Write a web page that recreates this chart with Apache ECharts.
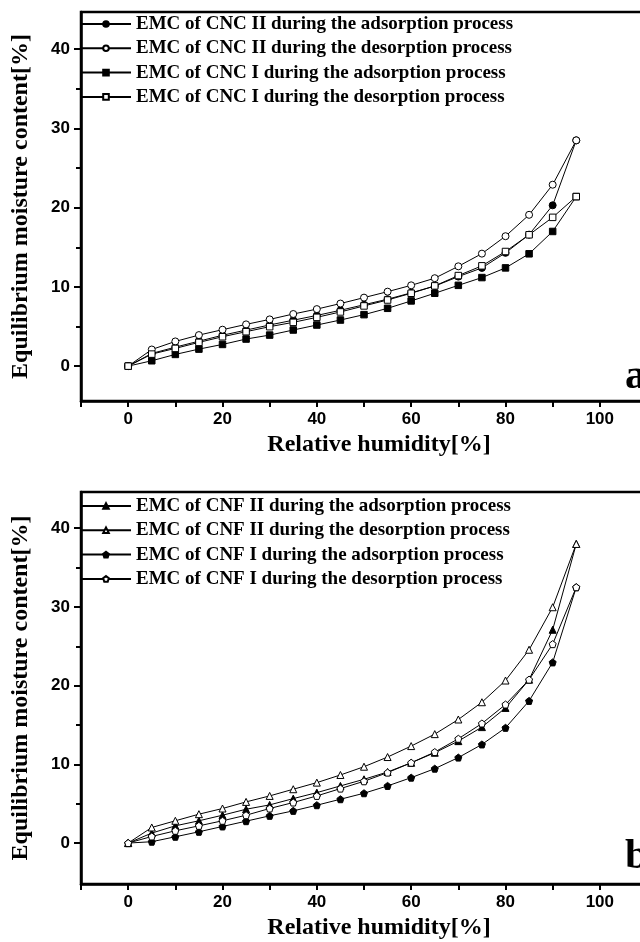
<!DOCTYPE html>
<html><head><meta charset="utf-8">
<script src="https://cdn.jsdelivr.net/npm/echarts@6/dist/echarts.min.js"></script>
<style>html,body{margin:0;padding:0;background:#fff}#c{width:640px;height:942px}</style>
</head><body><div id="c"></div>
<script>
// Relative humidity [%]
const rh = [0,5,10,15,20,25,30,35,40,45,50,55,60,65,70,75,80,85,90,95];
// Panel a: CNC
const cnc2Ads = [0,1.6,2.4,3.15,3.9,4.55,5.2,5.8,6.4,7.05,7.75,8.45,9.25,10.1,11.3,12.4,14.3,16.6,20.3,28.5];
const cnc2Des = [0,2.1,3.12,3.92,4.6,5.27,5.9,6.58,7.2,7.9,8.65,9.4,10.2,11.1,12.6,14.2,16.4,19.1,22.9,28.5];
const cnc1Ads = [0,0.68,1.48,2.15,2.74,3.42,3.92,4.56,5.19,5.82,6.5,7.3,8.23,9.2,10.2,11.18,12.4,14.18,17.0,21.4];
const cnc1Des = [0,1.52,2.24,3.0,3.71,4.35,4.98,5.53,6.16,6.84,7.6,8.35,9.2,10.13,11.43,12.66,14.47,16.58,18.78,21.4];
// Panel b: CNF
const cnf2Ads = [0,1.27,2.19,2.83,3.54,4.3,4.85,5.65,6.41,7.26,8.1,9.03,10.2,11.48,12.95,14.73,17.17,20.76,27.1,38.0];
const cnf2Des = [0,1.98,2.83,3.67,4.39,5.23,5.99,6.84,7.68,8.65,9.7,10.93,12.32,13.84,15.7,17.89,20.65,24.56,29.96,38.0];
const cnf1Ads = [0,0.17,0.8,1.43,2.11,2.78,3.46,4.09,4.81,5.57,6.33,7.26,8.31,9.45,10.86,12.53,14.64,18.06,22.95,32.5];
const cnf1Des = [0,0.84,1.56,2.19,2.83,3.54,4.39,5.15,5.99,6.92,7.85,8.95,10.2,11.56,13.25,15.19,17.6,20.76,25.27,32.5];

const namesA = ['EMC of CNC II during the adsorption process','EMC of CNC II during the desorption process','EMC of CNC I during the adsorption process','EMC of CNC I during the desorption process'];
const namesB = ['EMC of CNF II during the adsorption process','EMC of CNF II during the desorption process','EMC of CNF I during the adsorption process','EMC of CNF I during the desorption process'];
const yMajor = [0,10,20,30,40];
const yMinor = [5,15,25,35];
const xTitle = 'Relative humidity[%]';
const yTitle = 'Equilibrium moisture content[%]';
const panelLetters = ['a','b'];

const serif = '"Liberation Serif","Times New Roman","DejaVu Serif",serif';
const sans = '"Liberation Sans",Arial,sans-serif';
const pentagon = 'path://M0,-1 L0.951,-0.309 L0.588,0.809 L-0.588,0.809 L-0.951,-0.309 Z';

const panels = [
  {top:12, height:389, yMin:-4.4, yMax:44.7, legendTop:14, letterY:378,
   names:namesA, data:[cnc2Ads,cnc2Des,cnc1Ads,cnc1Des],
   symbols:['circle','circle','rect','rect'], fills:['#000','#fff','#000','#fff']},
  {top:492, height:392, yMin:-5.2, yMax:44.6, legendTop:496, letterY:858,
   names:namesB, data:[cnf2Ads,cnf2Des,cnf1Ads,cnf1Des],
   symbols:['triangle','triangle',pentagon,pentagon], fills:['#000','#fff','#000','#fff']}
];

const grid=[], xAxis=[], yAxis=[], series=[], legend=[], graphic=[];
panels.forEach((p,i)=>{
  grid.push({left:81, width:566, top:p.top, height:p.height, outerBoundsMode:'none', containLabel:false,
    show:true, borderColor:'#000', borderWidth:2.5, backgroundColor:'transparent'});
  xAxis.push({type:'value', gridIndex:i, min:-10, max:110, interval:10,
    axisLine:{onZero:false, lineStyle:{color:'#000', width:2.5}},
    axisTick:{length:6, lineStyle:{color:'#000', width:2}},
    axisLabel:{formatter:v=>(v>=0 && v%20===0)?String(v):'', fontFamily:sans, fontWeight:'bold', fontSize:17, color:'#000', margin:10},
    splitLine:{show:false},
    name:xTitle, nameLocation:'middle', nameGap:32,
    nameTextStyle:{fontFamily:serif, fontWeight:'bold', fontSize:24, color:'#000', padding:[0,0,0,30]}});
  yAxis.push({type:'value', gridIndex:i, position:'left', min:p.yMin, max:p.yMax,
    axisLine:{onZero:false, lineStyle:{color:'#000', width:2.5}},
    axisTick:{customValues:yMajor, length:7, lineStyle:{color:'#000', width:2}},
    axisLabel:{customValues:yMajor, fontFamily:sans, fontWeight:'bold', fontSize:17, color:'#000', margin:11},
    splitLine:{show:false},
    name:yTitle, nameLocation:'middle', nameGap:48, nameRotate:90,
    nameTextStyle:{fontFamily:serif, fontWeight:'bold', fontSize:24, color:'#000'}});
  yAxis.push({type:'value', gridIndex:i, position:'left', offset:0, min:p.yMin, max:p.yMax,
    axisLine:{show:false, onZero:false},
    axisTick:{customValues:yMinor, length:5, lineStyle:{color:'#000', width:2}},
    axisLabel:{show:false}, splitLine:{show:false}});
  p.names.forEach((n,k)=>{
    series.push({type:'line', name:n, xAxisIndex:i, yAxisIndex:i*2,
      data:rh.map((x,j)=>[x,p.data[k][j]]),
      symbol:p.symbols[k], symbolSize:p.symbols[k]==='rect'?6.5:7, showSymbol:true,
      lineStyle:{color:'#000', width:1},
      itemStyle:{color:p.fills[k], borderColor:'#000', borderWidth:1},
      emphasis:{disabled:true}, z:2+k});
  });
  legend.push({data:p.names, orient:'vertical', left:80, top:p.legendTop, padding:0,
    itemWidth:50, itemHeight:7, itemGap:4.3,
    textStyle:{fontFamily:serif, fontWeight:'bold', fontSize:19, color:'#000', lineHeight:20}});
  graphic.push({type:'text', left:625, top:p.letterY-22, style:{text:panelLetters[i], font:'bold 42px '+serif, fill:'#000'}});
});

const chart = echarts.init(document.getElementById('c'), null, {renderer:'canvas'});
chart.setOption({animation:false, backgroundColor:'#fff', grid, xAxis, yAxis, series, legend, graphic});
</script></body></html>
